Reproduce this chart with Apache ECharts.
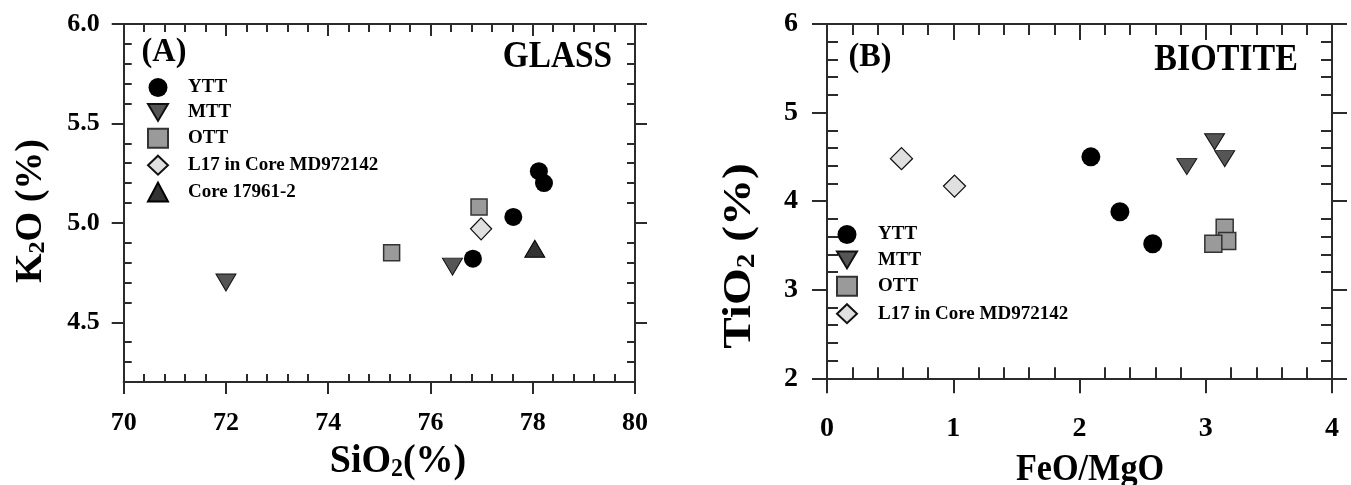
<!DOCTYPE html>
<html>
<head>
<meta charset="utf-8">
<script src="https://cdn.jsdelivr.net/npm/echarts@6/dist/echarts.min.js"></script>
<style>html,body{margin:0;padding:0;background:#fff}#c{width:1351px;height:485px}</style>
</head>
<body>
<div id="c"></div>
<script>
// ---------- Panel A: GLASS (SiO2 % vs K2O %) ----------
const glassYTT_SiO2  = [76.83, 77.62, 78.12, 78.22];
const glassYTT_K2O   = [4.82, 5.03, 5.26, 5.20];
const glassMTT_SiO2  = [72.0, 76.43];
const glassMTT_K2O   = [4.70, 4.78];
const glassOTT_SiO2  = [75.24, 76.95];
const glassOTT_K2O   = [4.85, 5.08];
const glassL17_SiO2  = [76.99];
const glassL17_K2O   = [4.97];
const glassCore_SiO2 = [78.04];
const glassCore_K2O  = [4.87];

// ---------- Panel B: BIOTITE (FeO/MgO vs TiO2 %) ----------
const bioYTT_FeMg = [2.09, 2.32, 2.58];
const bioYTT_TiO2 = [4.50, 3.88, 3.52];
const bioMTT_FeMg = [2.85, 3.07, 3.15];
const bioMTT_TiO2 = [4.39, 4.67, 4.48];
const bioOTT_FeMg = [3.15, 3.17, 3.06];
const bioOTT_TiO2 = [3.70, 3.55, 3.52];
const bioL17_FeMg = [0.59, 1.01];
const bioL17_TiO2 = [4.48, 4.17];

// ---------- Tick labels ----------
const glassXTicks = [70, 72, 74, 76, 78, 80];
const glassYTicks = [4.5, 5.0, 5.5, 6.0];
const bioXTicks = [0, 1, 2, 3, 4];
const bioYTicks = [2, 3, 4, 5, 6];

const legendA = ['YTT', 'MTT', 'OTT', 'L17 in Core MD972142', 'Core 17961-2'];
const legendB = ['YTT', 'MTT', 'OTT', 'L17 in Core MD972142'];

const zip = (a, b) => a.map((v, i) => [v, b[i]]);
function minorTicks(min, max, step, majors) {
  const out = [];
  const n = Math.round((max - min) / step);
  for (let i = 1; i < n; i++) {
    const v = +(min + i * step).toFixed(6);
    if (!majors.some(m => Math.abs(m - v) < 1e-6)) out.push(v);
  }
  return out;
}

const SERIF = "'Liberation Serif', 'Times New Roman', serif";
const AX = '#2b2b2b';

function axis(gridIndex, min, max, position, ticks, inside, length, withLine, label) {
  return {
    type: 'value', gridIndex, min, max, position,
    axisLine: { show: withLine, onZero: false, lineStyle: { color: AX, width: 2 } },
    axisTick: { show: true, inside, length, customValues: ticks, lineStyle: { color: AX, width: 2 } },
    axisLabel: label ? Object.assign({ show: true, customValues: ticks, color: '#000', fontFamily: SERIF, fontWeight: 'bold' }, label) : { show: false },
    splitLine: { show: false }, minorTick: { show: false }, minorSplitLine: { show: false }
  };
}

const gAxMinX = minorTicks(70, 80, 0.4, glassXTicks);
const gAxMinY = minorTicks(4.2, 6.0, 0.1, glassYTicks);
const bAxMinX = minorTicks(0, 4, 0.2, bioXTicks);
const bAxMinY = minorTicks(2, 6, 0.2, bioYTicks);

const xAxes = [
  axis(0, 70, 80, 'bottom', glassXTicks, false, 12, true, { fontSize: 26, margin: 28 }),
  axis(0, 70, 80, 'bottom', gAxMinX, true, 8, false),
  axis(0, 70, 80, 'top', glassXTicks, true, 12, true),
  axis(0, 70, 80, 'top', gAxMinX, true, 8, false),
  axis(1, 0, 4, 'bottom', bioXTicks, false, 15, true, { fontSize: 28, margin: 36 }),
  axis(1, 0, 4, 'bottom', bAxMinX, true, 11, false),
  axis(1, 0, 4, 'top', bioXTicks, true, 16, true),
  axis(1, 0, 4, 'top', bAxMinX, true, 11, false)
];
const yAxes = [
  axis(0, 4.2, 6.0, 'left', glassYTicks, false, 12, true, { fontSize: 26, margin: 24, formatter: v => (+v).toFixed(1) }),
  axis(0, 4.2, 6.0, 'left', gAxMinY, true, 8, false),
  axis(0, 4.2, 6.0, 'right', glassYTicks, false, 12, true),
  axis(0, 4.2, 6.0, 'right', gAxMinY, true, 8, false),
  axis(1, 2, 6, 'left', bioYTicks, false, 15, true, { fontSize: 28, margin: 29 }),
  axis(1, 2, 6, 'left', bAxMinY, true, 11, false),
  axis(1, 2, 6, 'right', bioYTicks, false, 15, true),
  axis(1, 2, 6, 'right', bAxMinY, true, 11, false)
];

const DOWN_TRI = 'path://M0,0L20,0L10,17Z';
const sty = {
  YTT:  { symbol: 'circle', itemStyle: { color: '#000', opacity: 1 } },
  MTT:  { symbol: 'triangle', symbolRotate: 180, itemStyle: { color: '#555', borderColor: '#111', borderWidth: 1, opacity: 1 } },
  OTT:  { symbol: 'rect', itemStyle: { color: '#9a9a9a', borderColor: '#333', borderWidth: 1.5, opacity: 1 } },
  L17:  { symbol: 'diamond', itemStyle: { color: '#e0e0e0', borderColor: '#111', borderWidth: 1.3, opacity: 1 } },
  CORE: { symbol: 'triangle', itemStyle: { color: '#333', borderColor: '#000', borderWidth: 1, opacity: 1 } }
};
function sc(name, key, axisIdx, data, size) {
  return Object.assign({ type: 'scatter', name, xAxisIndex: axisIdx, yAxisIndex: axisIdx, data, symbolSize: size, emphasis: { disabled: true } }, sty[key]);
}

const series = [
  sc('MTT', 'MTT', 0, zip(glassMTT_SiO2, glassMTT_K2O), [20, 17]),
  sc('OTT', 'OTT', 0, zip(glassOTT_SiO2, glassOTT_K2O), 16),
  sc('L17 in Core MD972142', 'L17', 0, zip(glassL17_SiO2, glassL17_K2O), [21, 22]),
  sc('Core 17961-2', 'CORE', 0, zip(glassCore_SiO2, glassCore_K2O), [20, 17]),
  sc('YTT', 'YTT', 0, zip(glassYTT_SiO2, glassYTT_K2O), 18),
  sc('MTT', 'MTT', 4, zip(bioMTT_FeMg, bioMTT_TiO2), [20, 16]),
  sc('OTT', 'OTT', 4, zip(bioOTT_FeMg, bioOTT_TiO2), 17),
  sc('L17 in Core MD972142', 'L17', 4, zip(bioL17_FeMg, bioL17_TiO2), [22, 22]),
  sc('YTT', 'YTT', 4, zip(bioYTT_FeMg, bioYTT_TiO2), 19)
];

const legText = { fontFamily: SERIF, fontWeight: 'bold', fontSize: 19, lineHeight: 19, color: '#000' };
const legItems = names => names.map(n => n === 'MTT' ? { name: n, icon: DOWN_TRI } : { name: n });

function label(x, y, text, size, opts) {
  opts = opts || {};
  return {
    type: 'text', x, y, rotation: opts.rot || 0, scaleX: opts.sx || 1, scaleY: opts.sy || 1, silent: true,
    style: {
      text, rich: opts.rich, fill: '#000', fontFamily: SERIF, fontWeight: 'bold', fontSize: size,
      align: opts.align || 'center', textAlign: opts.align || 'center',
      verticalAlign: 'middle', textVerticalAlign: 'middle'
    }
  };
}
function subRich(size, sub) {
  return {
    a: { fontFamily: SERIF, fontWeight: 'bold', fontSize: size, lineHeight: size, fill: '#000' },
    s: { fontFamily: SERIF, fontWeight: 'bold', fontSize: sub, lineHeight: sub, padding: [size - sub, 0, 0, 0], fill: '#000' }
  };
}

const option = {
  backgroundColor: '#fff',
  animation: false,
  grid: [
    { left: 123.7, right: 1351 - 635, top: 24, bottom: 485 - 382 },
    { left: 827, right: 1351 - 1332, top: 24, bottom: 485 - 378.3 }
  ],
  xAxis: xAxes,
  yAxis: yAxes,
  legend: [
    { orient: 'vertical', left: 147, top: 78, padding: 0, itemWidth: 20, itemHeight: 19, itemGap: 5.9, selectedMode: false,
      data: legItems(legendA), textStyle: Object.assign({ padding: [0, 0, 0, 15] }, legText) },
    { orient: 'vertical', left: 836, top: 225, padding: 0, itemWidth: 20, itemHeight: 19, itemGap: 6.4, selectedMode: false,
      data: legItems(legendB), textStyle: Object.assign({ padding: [0, 0, 0, 16] }, legText) }
  ],
  graphic: [
    label(164, 52, '(A)', 34, { sx: 0.95 }),
    label(612, 57, 'GLASS', 37, { align: 'right', sx: 0.9 }),
    label(870, 57, '(B)', 34, { sx: 0.95 }),
    label(1298, 60, 'BIOTITE', 37, { align: 'right', sx: 0.92 }),
    label(398, 462, '{a|SiO}{s|2}{a|(%)}', 40, { sx: 0.95, rich: subRich(40, 25) }),
    label(31, 211, '{a|K}{s|2}{a|O (%)}', 38, { rot: Math.PI / 2, rich: subRich(38, 24) }),
    label(740, 256, '{a|TiO}{s|2}{a| (%)}', 40, { rot: Math.PI / 2, sx: 1.18, rich: subRich(40, 25) }),
    label(1090, 470, 'FeO/MgO', 38, { sx: 0.9 })
  ],
  series
};

const chart = echarts.init(document.getElementById('c'), null, { renderer: 'canvas' });
chart.setOption(option);
</script>
</body>
</html>
